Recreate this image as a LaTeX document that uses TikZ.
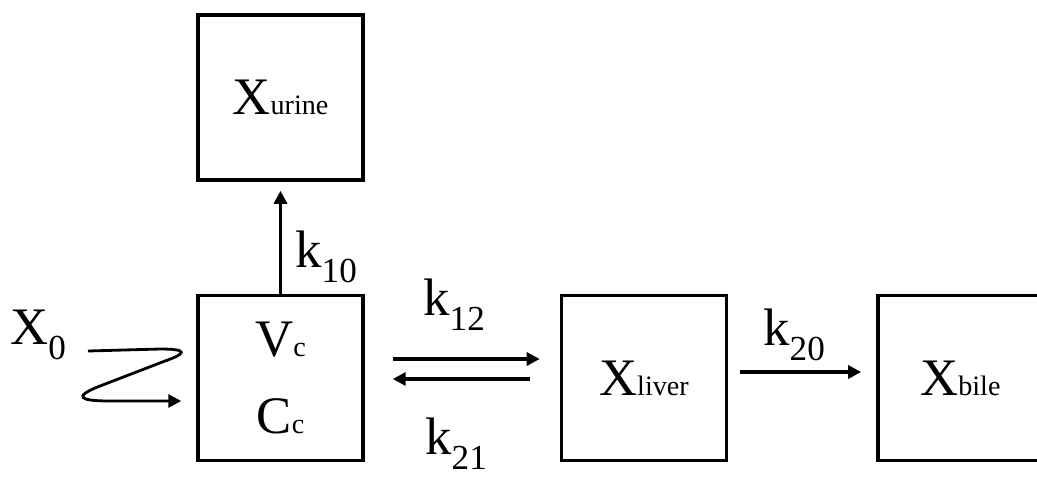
\documentclass[tikz,border=0pt]{standalone}
\usepackage{fontspec}
\setmainfont{Liberation Serif}
\usetikzlibrary{arrows.meta, positioning}
\newcommand{\sml}[1]{{\fontsize{16}{16}\selectfont #1}}
\newcommand{\kidx}[1]{\raisebox{-9pt}{\fontsize{20}{20}\selectfont #1}}

\begin{document}
\begin{tikzpicture}[x=0.02cm, y=-0.02cm,
  font=\fontsize{30}{44}\selectfont,
  comp/.style={draw, line width=2pt, minimum width=3.3cm, minimum height=3.3cm,
               align=center, inner sep=0pt},
  ar/.style={-{Triangle[length=2.6mm, width=2.6mm]}, line width=2pt},
  lbl/.style={anchor=base west, inner sep=0pt},
]
\useasboundingbox (0,0) rectangle (1037,477);
% compartments
\node[comp] (cen) at (280.5,378) {V\sml{c}\\C\sml{c}};
\node[comp, above=2.24cm of cen] (urine) {X\sml{urine}};
\node[comp, right=3.9cm of cen] (liver) {X\sml{liver}};
\node[comp, right=2.96cm of liver] (bile) {X\sml{bile}};

% rate constants
\node[lbl] (x0) at (10,344) {X\kidx{0}};
\node[lbl] (k10) at (295,267) {k\kidx{10}};
\node[lbl] (k12) at (423,315) {k\kidx{12}};
\node[lbl] (k21) at (425,454) {k\kidx{21}};
\node[lbl] (k20) at (763,345) {k\kidx{20}};

% transfers
\draw[ar, shorten >=0.18cm] (cen.north) -- (cen.north |- urine.south);
\draw[ar, shorten <=0.56cm, shorten >=0.4cm]
  ([yshift=0.38cm]cen.east) -- ([yshift=0.38cm]cen.east -| liver.west);
\draw[ar, shorten <=0.6cm, shorten >=0.56cm]
  ([yshift=-0.02cm]cen.east -| liver.west) -- ([yshift=-0.02cm]cen.east);
\draw[ar, shorten <=0.24cm, shorten >=0.3cm]
  ([yshift=0.12cm]liver.east) -- ([yshift=0.12cm]liver.east -| bile.west);

% dose input
\coordinate (dose) at (88,351);
\draw[ar, line width=1.6pt] (dose) -- (160,349) .. controls (190,349) and (185,354) .. (165,361)
  -- (100,386) .. controls (72,397) and (80,401) .. (110,401)
  -- ([yshift=-0.46cm, xshift=-0.3cm]cen.west);
\end{tikzpicture}
\end{document}
